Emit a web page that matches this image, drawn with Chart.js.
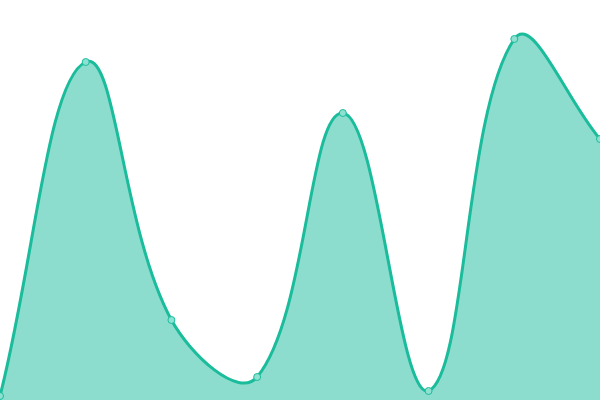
<!DOCTYPE html>
<html>
<head>
<meta charset="utf-8">
<script src="https://cdn.jsdelivr.net/npm/chart.js@4"></script>
<style>
    html, body { margin: 0; padding: 0; background: #fff; }
    #wrap { width: 600px; height: 400px; }
</style>
</head>
<body>
<div id="wrap"><canvas id="chart"></canvas></div>
<script>
// значения
const labels = ['1', '2', '3', '4', '5', '6', '7', '8'];
const values = [1, 84.5, 20, 5.75, 71.75, 2.25, 90.25, 65.25];
const yMin = 0;
const yMax = 100;

const ctx = document.getElementById('chart').getContext('2d');

new Chart(ctx, {
    type: 'line',
    data: {
        labels,
        datasets: [{
            data: values,
            fill: 'origin',
            backgroundColor: 'rgba(26, 188, 156, 0.5)',
            borderColor: '#1abc9c',
            borderWidth: 3,
            tension: 0.4,
            pointRadius: 3.5,
            pointBackgroundColor: '#8ee0d0',
            pointBorderColor: '#1abc9c',
            pointBorderWidth: 1
        }]
    },
    options: {
        responsive: true,
        maintainAspectRatio: false,
        animation: false,
        layout: { padding: 0, autoPadding: false },
        plugins: {
            legend: { display: false },
            tooltip: { enabled: false }
        },
        scales: {
            x: { display: false },
            y: { display: false, min: yMin, max: yMax }
        }
    }
});
</script>
</body>
</html>
